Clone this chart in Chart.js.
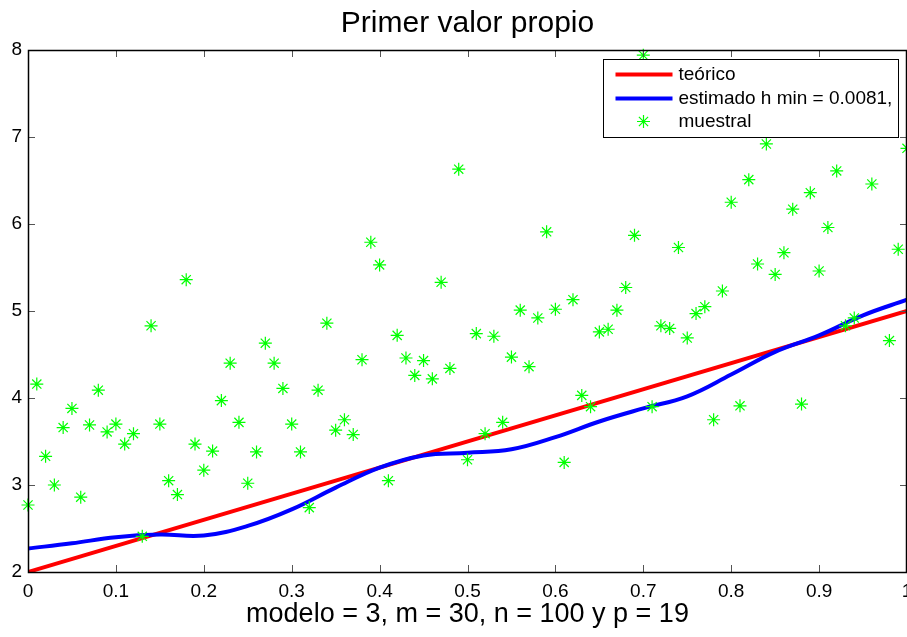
<!DOCTYPE html>
<html>
<head>
<meta charset="utf-8">
<script src="https://cdn.jsdelivr.net/npm/chart.js@4.4.0/dist/chart.umd.min.js"></script>
<style>
  html, body { margin: 0; padding: 0; background: #fff; }
</style>
</head>
<body>
<canvas id="myChart" width="907" height="637"></canvas>
<script>
// données
const xTicks = [0, 0.1, 0.2, 0.3, 0.4, 0.5, 0.6, 0.7, 0.8, 0.9, 1];
const xTickLabels = ['0', '0.1', '0.2', '0.3', '0.4', '0.5', '0.6', '0.7', '0.8', '0.9', '1'];
const yTicks = [2, 3, 4, 5, 6, 7, 8];

// teórico : droite
const xTeorico = [0, 1];
const yTeorico = [2, 5];

// estimado (courbe lissée)
const xEstimado = [0, 0.05, 0.1, 0.15, 0.2, 0.25, 0.3, 0.35, 0.4, 0.45, 0.5,
  0.55, 0.6, 0.65, 0.7, 0.75, 0.8, 0.85, 0.9, 0.95, 1];
const yEstimado = [2.27, 2.33, 2.40, 2.43, 2.42, 2.53, 2.72, 2.97, 3.20, 3.34, 3.37,
  3.41, 3.55, 3.73, 3.88, 4.02, 4.27, 4.53, 4.72, 4.95, 5.13];

// muestral : un point tous les 0.01 (0.95 et 0.97 cachés)
const yMuestral = [
  2.77, 4.16, 3.33, 3.00, 3.66, 3.88, 2.86, 3.69, 4.09, 3.61,
  3.70, 3.47, 3.59, 2.41, 4.83, 3.70, 3.05, 2.89, 5.36, 3.47,
  3.17, 3.39, 3.97, 4.40, 3.72, 3.02, 3.38, 4.63, 4.40, 4.11,
  3.70, 3.38, 2.74, 4.09, 4.86, 3.63, 3.75, 3.58, 4.44, 5.79,
  5.53, 3.05, 4.72, 4.46, 4.26, 4.43, 4.22, 5.33, 4.34, 6.63,
  3.29, 4.74, 3.59, 4.71, 3.72, 4.47, 5.01, 4.36, 4.92, 5.91,
  5.02, 3.26, 5.13, 4.03, 3.90, 4.76, 4.79, 5.01, 5.27, 5.87,
  7.94, 3.90, 4.83, 4.80, 5.73, 4.69, 4.97, 5.05, 3.75, 5.23,
  6.25, 3.91, 6.51, 5.54, 6.92, 5.42, 5.67, 6.17, 3.93, 6.36,
  5.46, 5.96, 6.61, 4.83, 4.92, null, 6.46, null, 4.66, 5.71,
  6.87
];
const xMuestral = yMuestral.map((v, i) => i / 100);

const labelTeorico = 'teórico';
const labelEstimado = 'estimado h min = 0.0081,';
const labelMuestral = 'muestral';

const FONT = '"Liberation Sans", Arial, Helvetica, sans-serif';

function toPts(xs, ys) {
  const out = [];
  xs.forEach(function (x, i) {
    if (ys[i] !== null) out.push({ x: x, y: ys[i] });
  });
  return out;
}

// pas de marge pour les étiquettes des extrémités (comme matlab)
function noPad(s) {
  s.paddingLeft = 0; s.paddingRight = 0;
  s.paddingTop = 0; s.paddingBottom = 0;
}

// cadre, graduations intérieures et légende façon matlab
const cadrePlugin = {
  id: 'cadre',
  afterDraw(chart) {
    const ctx = chart.ctx;
    const a = chart.chartArea;
    const sx = chart.scales.x, sy = chart.scales.y;
    const tl = 7;
    ctx.save();
    ctx.strokeStyle = '#555';
    ctx.lineWidth = 1;
    xTicks.forEach(function (v) {
      const px = Math.round(sx.getPixelForValue(v)) + 0.5;
      ctx.beginPath();
      ctx.moveTo(px, a.bottom); ctx.lineTo(px, a.bottom - tl);
      ctx.moveTo(px, a.top); ctx.lineTo(px, a.top + tl);
      ctx.stroke();
    });
    yTicks.forEach(function (v) {
      const py = Math.round(sy.getPixelForValue(v)) + 0.5;
      ctx.beginPath();
      ctx.moveTo(a.left, py); ctx.lineTo(a.left + tl, py);
      ctx.moveTo(a.right, py); ctx.lineTo(a.right - tl, py);
      ctx.stroke();
    });
    ctx.strokeStyle = '#000';
    ctx.lineWidth = 1.5;
    ctx.strokeRect(Math.round(a.left) + 0.5, Math.round(a.top) + 0.5,
      Math.round(a.right - a.left) - 1, Math.round(a.bottom - a.top));

    // légende
    const lw = 295, lh = 78;
    const lx = Math.round(a.right - 304) + 0.5;
    const ly = Math.round(a.top + 9) + 0.5;
    ctx.fillStyle = '#fff';
    ctx.fillRect(lx, ly, lw, lh);
    ctx.strokeStyle = '#000';
    ctx.lineWidth = 1;
    ctx.strokeRect(lx, ly, lw, lh);

    const rows = [ly + 15, ly + 39, ly + 62];
    ctx.lineWidth = 4;
    ctx.strokeStyle = '#ff0000';
    ctx.beginPath(); ctx.moveTo(lx + 12, rows[0]); ctx.lineTo(lx + 69, rows[0]); ctx.stroke();
    ctx.strokeStyle = '#0000ff';
    ctx.beginPath(); ctx.moveTo(lx + 12, rows[1]); ctx.lineTo(lx + 69, rows[1]); ctx.stroke();
    ctx.lineWidth = 1.2;
    ctx.strokeStyle = '#00ff00';
    Chart.helpers.drawPoint(ctx, { pointStyle: 'star', radius: 6.5, borderWidth: 1.2 }, lx + 40, rows[2]);

    ctx.fillStyle = '#000';
    ctx.font = '19px ' + FONT;
    ctx.textBaseline = 'middle';
    ctx.textAlign = 'left';
    ctx.fillText(labelTeorico, lx + 75, rows[0]);
    ctx.fillText(labelEstimado, lx + 75, rows[1]);
    ctx.fillText(labelMuestral, lx + 75, rows[2]);
    ctx.restore();
  }
};

const myChart = new Chart(document.getElementById('myChart'), {
  type: 'scatter',
  data: {
    datasets: [
      {
        label: labelMuestral,
        data: toPts(xMuestral, yMuestral),
        showLine: false,
        pointStyle: 'star',
        pointRadius: 6.5,
        borderWidth: 1.2,
        borderColor: '#00ff00',
        backgroundColor: '#00ff00',
        clip: false,
        order: 0
      },
      {
        label: labelEstimado,
        data: toPts(xEstimado, yEstimado),
        showLine: true,
        borderColor: '#0000ff',
        borderWidth: 4,
        pointRadius: 0,
        tension: 0.4,
        order: 1
      },
      {
        label: labelTeorico,
        data: toPts(xTeorico, yTeorico),
        showLine: true,
        borderColor: '#ff0000',
        borderWidth: 4,
        pointRadius: 0,
        order: 2
      }
    ]
  },
  options: {
    responsive: false,
    animation: false,
    events: [],
    layout: { padding: 0, autoPadding: false },
    plugins: {
      legend: { display: false },
      tooltip: { enabled: false },
      title: {
        display: true,
        text: 'Primer valor propio',
        fullSize: false,
        color: '#000',
        font: { family: FONT, size: 30, weight: 'normal' },
        padding: { top: 6, bottom: 8 }
      }
    },
    scales: {
      x: {
        type: 'linear',
        min: 0,
        max: 1,
        afterBuildTicks(s) { s.ticks = xTicks.map(v => ({ value: v })); },
        afterFit(s) { s.height = 65; noPad(s); },
        grid: { display: false, drawTicks: false },
        border: { display: false },
        ticks: {
          color: '#000',
          font: { family: FONT, size: 19 },
          padding: 8,
          maxRotation: 0,
          autoSkip: false,
          callback: (v, i) => xTickLabels[i]
        },
        title: {
          display: true,
          text: 'modelo = 3, m = 30, n = 100 y p = 19',
          color: '#000',
          font: { family: FONT, size: 27 },
          padding: { top: 0, bottom: 6 }
        }
      },
      y: {
        min: 2,
        max: 8,
        afterBuildTicks(s) { s.ticks = yTicks.map(v => ({ value: v })); },
        afterFit(s) { s.width = 28; noPad(s); },
        grid: { display: false, drawTicks: false },
        border: { display: false },
        ticks: {
          color: '#000',
          font: { family: FONT, size: 19 },
          padding: 6,
          callback: v => String(v)
        }
      }
    }
  },
  plugins: [cadrePlugin]
});
</script>
</body>
</html>
